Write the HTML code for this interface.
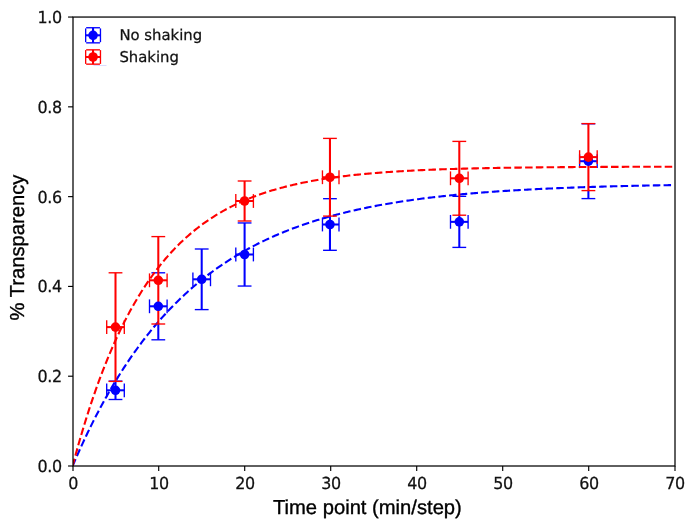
<!DOCTYPE html>
<html lang="en"><head><meta charset="utf-8"><title>% Transparency vs time point</title>
<style>
html,body{margin:0;padding:0;background:#fff;}
body{width:685px;height:530px;overflow:hidden;}
svg{display:block;will-change:transform;}
text{text-rendering:geometricPrecision;}
.tick{font-family:"DejaVu Sans","Liberation Sans",sans-serif;font-size:16.1px;letter-spacing:-0.4px;fill:#111;stroke:#111;stroke-width:0.25px;}
.leg{font-family:"DejaVu Sans","Liberation Sans",sans-serif;font-size:14.85px;fill:#111;stroke:#111;stroke-width:0.25px;}
.lab{font-family:"Liberation Sans",Arial,Helvetica,sans-serif;font-size:20.2px;fill:#000;stroke:#000;stroke-width:0.35px;}
</style></head><body>
<svg width="685" height="530" viewBox="0 0 685 530">
<rect x="0" y="0" width="685" height="530" fill="#ffffff"/>
<defs><clipPath id="ax"><rect x="73.0" y="17.05" width="602.0" height="448.95"/></clipPath></defs>
<g clip-path="url(#ax)" fill="none" stroke-linecap="butt">
<g stroke="#0000ff" stroke-width="2.05">
<line x1="106.7" y1="390.3" x2="124.3" y2="390.3"/>
<line x1="115.5" y1="380.8" x2="115.5" y2="399.5"/>
<line x1="149.5" y1="306.3" x2="167.1" y2="306.3"/>
<line x1="158.3" y1="323.4" x2="158.3" y2="339.8"/>
<line x1="192.9" y1="279.3" x2="210.5" y2="279.3"/>
<line x1="201.7" y1="249" x2="201.7" y2="309.6"/>
<line x1="235.8" y1="254.5" x2="253.4" y2="254.5"/>
<line x1="244.6" y1="222.95" x2="244.6" y2="286.05"/>
<line x1="322.45" y1="224.5" x2="339" y2="224.5"/>
<line x1="329.95" y1="215.5" x2="329.95" y2="250.3"/>
<line x1="450.5" y1="221.85" x2="468.1" y2="221.85"/>
<line x1="459.3" y1="214.6" x2="459.3" y2="247.4"/>
<line x1="579.6" y1="161.2" x2="597.2" y2="161.2"/>
<line x1="588.4" y1="190" x2="588.4" y2="198.6"/>
</g>
<g stroke="#0000ff" stroke-width="1.35">
<line x1="106.7" y1="383.4" x2="106.7" y2="397.2"/>
<line x1="124.3" y1="383.4" x2="124.3" y2="397.2"/>
<line x1="108.6" y1="381.1" x2="122.4" y2="381.1"/>
<line x1="108.6" y1="399.5" x2="122.4" y2="399.5"/>
<line x1="149.5" y1="299.4" x2="149.5" y2="313.2"/>
<line x1="167.1" y1="299.4" x2="167.1" y2="313.2"/>
<line x1="151.4" y1="272.8" x2="165.2" y2="272.8"/>
<line x1="151.4" y1="339.8" x2="165.2" y2="339.8"/>
<line x1="192.9" y1="272.4" x2="192.9" y2="286.2"/>
<line x1="210.5" y1="272.4" x2="210.5" y2="286.2"/>
<line x1="194.8" y1="249" x2="208.6" y2="249"/>
<line x1="194.8" y1="309.6" x2="208.6" y2="309.6"/>
<line x1="235.8" y1="247.6" x2="235.8" y2="261.4"/>
<line x1="253.4" y1="247.6" x2="253.4" y2="261.4"/>
<line x1="237.7" y1="222.95" x2="251.5" y2="222.95"/>
<line x1="237.7" y1="286.05" x2="251.5" y2="286.05"/>
<line x1="322.45" y1="217.6" x2="322.45" y2="231.4"/>
<line x1="339" y1="217.6" x2="339" y2="231.4"/>
<line x1="323.05" y1="198.7" x2="336.85" y2="198.7"/>
<line x1="323.05" y1="250.3" x2="336.85" y2="250.3"/>
<line x1="450.5" y1="214.95" x2="450.5" y2="228.75"/>
<line x1="468.1" y1="214.95" x2="468.1" y2="228.75"/>
<line x1="452.4" y1="196.3" x2="466.2" y2="196.3"/>
<line x1="452.4" y1="247.4" x2="466.2" y2="247.4"/>
<line x1="579.6" y1="154.3" x2="579.6" y2="168.1"/>
<line x1="597.2" y1="154.3" x2="597.2" y2="168.1"/>
<line x1="581.5" y1="123.8" x2="595.3" y2="123.8"/>
<line x1="581.5" y1="198.6" x2="595.3" y2="198.6"/>
</g>
<path d="M72.60,466.00 L74.10,462.49 L75.60,459.02 L77.11,455.60 L78.61,452.22 L80.11,448.88 L81.61,445.59 L83.11,442.33 L84.61,439.11 L86.12,435.94 L87.62,432.80 L89.12,429.70 L90.62,426.64 L92.12,423.62 L93.62,420.64 L95.13,417.69 L96.63,414.78 L98.13,411.91 L99.63,409.07 L101.13,406.27 L102.64,403.50 L104.14,400.77 L105.64,398.07 L107.14,395.40 L108.64,392.77 L110.14,390.16 L111.65,387.60 L113.15,385.06 L114.65,382.55 L116.15,380.08 L117.65,377.64 L119.16,375.22 L120.66,372.84 L122.16,370.49 L123.66,368.16 L125.16,365.87 L126.66,363.60 L128.17,361.36 L129.67,359.15 L131.17,356.97 L132.67,354.81 L134.17,352.68 L135.67,350.58 L137.18,348.50 L138.68,346.45 L140.18,344.42 L141.68,342.42 L143.18,340.44 L144.69,338.49 L146.19,336.57 L147.69,334.66 L149.19,332.78 L150.69,330.93 L152.19,329.09 L153.70,327.28 L155.20,325.49 L156.70,323.73 L158.20,321.98 L159.70,320.26 L161.20,318.56 L162.71,316.88 L164.21,315.22 L165.71,313.58 L167.21,311.96 L168.71,310.37 L170.22,308.79 L171.72,307.23 L173.22,305.69 L174.72,304.17 L176.22,302.67 L177.72,301.18 L179.23,299.72 L180.73,298.27 L182.23,296.85 L183.73,295.43 L185.23,294.04 L186.73,292.67 L188.24,291.31 L189.74,289.97 L191.24,288.64 L192.74,287.33 L194.24,286.04 L195.75,284.76 L197.25,283.50 L198.75,282.26 L200.25,281.03 L201.75,279.81 L203.25,278.61 L204.76,277.43 L206.26,276.26 L207.76,275.10 L209.26,273.96 L210.76,272.84 L212.27,271.72 L213.77,270.62 L215.27,269.54 L216.77,268.47 L218.27,267.41 L219.77,266.36 L221.28,265.33 L222.78,264.31 L224.28,263.31 L225.78,262.31 L227.28,261.33 L228.78,260.36 L230.29,259.40 L231.79,258.45 L233.29,257.52 L234.79,256.60 L236.29,255.69 L237.80,254.79 L239.30,253.90 L240.80,253.02 L242.30,252.15 L243.80,251.30 L245.30,250.45 L246.81,249.62 L248.31,248.79 L249.81,247.98 L251.31,247.17 L252.81,246.38 L254.31,245.60 L255.82,244.82 L257.32,244.06 L258.82,243.30 L260.32,242.55 L261.82,241.82 L263.33,241.09 L264.83,240.37 L266.33,239.66 L267.83,238.96 L269.33,238.27 L270.83,237.58 L272.34,236.91 L273.84,236.24 L275.34,235.58 L276.84,234.93 L278.34,234.29 L279.84,233.66 L281.35,233.03 L282.85,232.41 L284.35,231.80 L285.85,231.20 L287.35,230.60 L288.86,230.01 L290.36,229.43 L291.86,228.86 L293.36,228.29 L294.86,227.73 L296.36,227.18 L297.87,226.63 L299.37,226.09 L300.87,225.56 L302.37,225.03 L303.87,224.51 L305.38,224.00 L306.88,223.49 L308.38,222.99 L309.88,222.50 L311.38,222.01 L312.88,221.53 L314.39,221.05 L315.89,220.58 L317.39,220.12 L318.89,219.66 L320.39,219.21 L321.89,218.76 L323.40,218.32 L324.90,217.88 L326.40,217.45 L327.90,217.02 L329.40,216.60 L330.91,216.19 L332.41,215.78 L333.91,215.37 L335.41,214.97 L336.91,214.58 L338.41,214.19 L339.92,213.81 L341.42,213.42 L342.92,213.05 L344.42,212.68 L345.92,212.31 L347.42,211.95 L348.93,211.59 L350.43,211.24 L351.93,210.89 L353.43,210.55 L354.93,210.21 L356.44,209.87 L357.94,209.54 L359.44,209.21 L360.94,208.89 L362.44,208.57 L363.94,208.26 L365.45,207.94 L366.95,207.64 L368.45,207.33 L369.95,207.03 L371.45,206.74 L372.95,206.44 L374.46,206.16 L375.96,205.87 L377.46,205.59 L378.96,205.31 L380.46,205.04 L381.97,204.76 L383.47,204.50 L384.97,204.23 L386.47,203.97 L387.97,203.71 L389.47,203.46 L390.98,203.21 L392.48,202.96 L393.98,202.71 L395.48,202.47 L396.98,202.23 L398.49,201.99 L399.99,201.76 L401.49,201.53 L402.99,201.30 L404.49,201.07 L405.99,200.85 L407.50,200.63 L409.00,200.42 L410.50,200.20 L412.00,199.99 L413.50,199.78 L415.00,199.58 L416.51,199.37 L418.01,199.17 L419.51,198.97 L421.01,198.78 L422.51,198.58 L424.02,198.39 L425.52,198.20 L427.02,198.02 L428.52,197.83 L430.02,197.65 L431.52,197.47 L433.03,197.29 L434.53,197.12 L436.03,196.94 L437.53,196.77 L439.03,196.60 L440.53,196.44 L442.04,196.27 L443.54,196.11 L445.04,195.95 L446.54,195.79 L448.04,195.63 L449.55,195.48 L451.05,195.33 L452.55,195.17 L454.05,195.03 L455.55,194.88 L457.05,194.73 L458.56,194.59 L460.06,194.45 L461.56,194.31 L463.06,194.17 L464.56,194.03 L466.07,193.90 L467.57,193.76 L469.07,193.63 L470.57,193.50 L472.07,193.37 L473.57,193.25 L475.08,193.12 L476.58,193.00 L478.08,192.88 L479.58,192.76 L481.08,192.64 L482.58,192.52 L484.09,192.40 L485.59,192.29 L487.09,192.18 L488.59,192.06 L490.09,191.95 L491.60,191.84 L493.10,191.74 L494.60,191.63 L496.10,191.53 L497.60,191.42 L499.10,191.32 L500.61,191.22 L502.11,191.12 L503.61,191.02 L505.11,190.92 L506.61,190.83 L508.11,190.73 L509.62,190.64 L511.12,190.54 L512.62,190.45 L514.12,190.36 L515.62,190.27 L517.13,190.18 L518.63,190.10 L520.13,190.01 L521.63,189.93 L523.13,189.84 L524.63,189.76 L526.14,189.68 L527.64,189.60 L529.14,189.52 L530.64,189.44 L532.14,189.36 L533.64,189.28 L535.15,189.21 L536.65,189.13 L538.15,189.06 L539.65,188.98 L541.15,188.91 L542.66,188.84 L544.16,188.77 L545.66,188.70 L547.16,188.63 L548.66,188.56 L550.16,188.50 L551.67,188.43 L553.17,188.37 L554.67,188.30 L556.17,188.24 L557.67,188.17 L559.18,188.11 L560.68,188.05 L562.18,187.99 L563.68,187.93 L565.18,187.87 L566.68,187.81 L568.19,187.75 L569.69,187.70 L571.19,187.64 L572.69,187.59 L574.19,187.53 L575.69,187.48 L577.20,187.42 L578.70,187.37 L580.20,187.32 L581.70,187.27 L583.20,187.22 L584.71,187.17 L586.21,187.12 L587.71,187.07 L589.21,187.02 L590.71,186.97 L592.21,186.92 L593.72,186.88 L595.22,186.83 L596.72,186.78 L598.22,186.74 L599.72,186.70 L601.22,186.65 L602.73,186.61 L604.23,186.57 L605.73,186.52 L607.23,186.48 L608.73,186.44 L610.24,186.40 L611.74,186.36 L613.24,186.32 L614.74,186.28 L616.24,186.24 L617.74,186.20 L619.25,186.17 L620.75,186.13 L622.25,186.09 L623.75,186.06 L625.25,186.02 L626.75,185.98 L628.26,185.95 L629.76,185.91 L631.26,185.88 L632.76,185.85 L634.26,185.81 L635.77,185.78 L637.27,185.75 L638.77,185.72 L640.27,185.68 L641.77,185.65 L643.27,185.62 L644.78,185.59 L646.28,185.56 L647.78,185.53 L649.28,185.50 L650.78,185.47 L652.29,185.44 L653.79,185.42 L655.29,185.39 L656.79,185.36 L658.29,185.33 L659.79,185.31 L661.30,185.28 L662.80,185.25 L664.30,185.23 L665.80,185.20 L667.30,185.18 L668.80,185.15 L670.31,185.13 L671.81,185.10 L673.31,185.08" stroke="#0000ff" stroke-width="2.1" stroke-dasharray="7.5 3.24"/>
<g stroke="#ff0000" stroke-width="2.05">
<line x1="106.7" y1="327.1" x2="124.3" y2="327.1"/>
<line x1="115.5" y1="272.8" x2="115.5" y2="381.4"/>
<line x1="149.5" y1="280.3" x2="167.1" y2="280.3"/>
<line x1="158.3" y1="236.6" x2="158.3" y2="324"/>
<line x1="235.8" y1="201" x2="253.4" y2="201"/>
<line x1="244.6" y1="181" x2="244.6" y2="221"/>
<line x1="322.45" y1="177.25" x2="339" y2="177.25"/>
<line x1="329.95" y1="138.4" x2="329.95" y2="216.1"/>
<line x1="450.5" y1="178.3" x2="468.1" y2="178.3"/>
<line x1="459.3" y1="141.4" x2="459.3" y2="215.2"/>
<line x1="579.6" y1="157.1" x2="597.2" y2="157.1"/>
<line x1="588.4" y1="123.6" x2="588.4" y2="190.6"/>
</g>
<g stroke="#ff0000" stroke-width="1.35">
<line x1="106.7" y1="320.2" x2="106.7" y2="334"/>
<line x1="124.3" y1="320.2" x2="124.3" y2="334"/>
<line x1="108.6" y1="272.8" x2="122.4" y2="272.8"/>
<line x1="108.6" y1="381.4" x2="122.4" y2="381.4"/>
<line x1="149.5" y1="273.4" x2="149.5" y2="287.2"/>
<line x1="167.1" y1="273.4" x2="167.1" y2="287.2"/>
<line x1="151.4" y1="236.6" x2="165.2" y2="236.6"/>
<line x1="151.4" y1="324" x2="165.2" y2="324"/>
<line x1="235.8" y1="194.1" x2="235.8" y2="207.9"/>
<line x1="253.4" y1="194.1" x2="253.4" y2="207.9"/>
<line x1="237.7" y1="181" x2="251.5" y2="181"/>
<line x1="237.7" y1="221" x2="251.5" y2="221"/>
<line x1="322.45" y1="170.35" x2="322.45" y2="184.15"/>
<line x1="339" y1="170.35" x2="339" y2="184.15"/>
<line x1="323.05" y1="138.4" x2="336.85" y2="138.4"/>
<line x1="323.05" y1="216.1" x2="336.85" y2="216.1"/>
<line x1="450.5" y1="171.4" x2="450.5" y2="185.2"/>
<line x1="468.1" y1="171.4" x2="468.1" y2="185.2"/>
<line x1="452.4" y1="141.4" x2="466.2" y2="141.4"/>
<line x1="452.4" y1="215.2" x2="466.2" y2="215.2"/>
<line x1="579.6" y1="150.2" x2="579.6" y2="164"/>
<line x1="597.2" y1="150.2" x2="597.2" y2="164"/>
<line x1="581.5" y1="123.6" x2="595.3" y2="123.6"/>
<line x1="581.5" y1="190.6" x2="595.3" y2="190.6"/>
</g>
<path d="M72.60,466.00 L74.10,460.35 L75.60,454.81 L77.11,449.38 L78.61,444.05 L80.11,438.82 L81.61,433.68 L83.11,428.65 L84.61,423.70 L86.12,418.86 L87.62,414.10 L89.12,409.43 L90.62,404.85 L92.12,400.36 L93.62,395.95 L95.13,391.63 L96.63,387.38 L98.13,383.22 L99.63,379.13 L101.13,375.13 L102.64,371.19 L104.14,367.33 L105.64,363.55 L107.14,359.83 L108.64,356.19 L110.14,352.61 L111.65,349.11 L113.15,345.66 L114.65,342.29 L116.15,338.97 L117.65,335.72 L119.16,332.53 L120.66,329.40 L122.16,326.33 L123.66,323.32 L125.16,320.37 L126.66,317.47 L128.17,314.62 L129.67,311.83 L131.17,309.09 L132.67,306.40 L134.17,303.77 L135.67,301.18 L137.18,298.64 L138.68,296.15 L140.18,293.71 L141.68,291.31 L143.18,288.96 L144.69,286.65 L146.19,284.38 L147.69,282.16 L149.19,279.98 L150.69,277.84 L152.19,275.75 L153.70,273.69 L155.20,271.67 L156.70,269.68 L158.20,267.74 L159.70,265.83 L161.20,263.96 L162.71,262.12 L164.21,260.32 L165.71,258.55 L167.21,256.82 L168.71,255.12 L170.22,253.45 L171.72,251.81 L173.22,250.20 L174.72,248.62 L176.22,247.08 L177.72,245.56 L179.23,244.07 L180.73,242.61 L182.23,241.17 L183.73,239.77 L185.23,238.39 L186.73,237.03 L188.24,235.70 L189.74,234.40 L191.24,233.12 L192.74,231.86 L194.24,230.63 L195.75,229.43 L197.25,228.24 L198.75,227.08 L200.25,225.94 L201.75,224.82 L203.25,223.72 L204.76,222.64 L206.26,221.58 L207.76,220.54 L209.26,219.53 L210.76,218.53 L212.27,217.55 L213.77,216.59 L215.27,215.64 L216.77,214.72 L218.27,213.81 L219.77,212.92 L221.28,212.04 L222.78,211.19 L224.28,210.34 L225.78,209.52 L227.28,208.71 L228.78,207.91 L230.29,207.13 L231.79,206.37 L233.29,205.62 L234.79,204.88 L236.29,204.16 L237.80,203.45 L239.30,202.75 L240.80,202.07 L242.30,201.40 L243.80,200.74 L245.30,200.10 L246.81,199.47 L248.31,198.85 L249.81,198.24 L251.31,197.64 L252.81,197.05 L254.31,196.48 L255.82,195.91 L257.32,195.36 L258.82,194.82 L260.32,194.28 L261.82,193.76 L263.33,193.25 L264.83,192.75 L266.33,192.25 L267.83,191.77 L269.33,191.29 L270.83,190.83 L272.34,190.37 L273.84,189.92 L275.34,189.48 L276.84,189.05 L278.34,188.62 L279.84,188.21 L281.35,187.80 L282.85,187.40 L284.35,187.00 L285.85,186.62 L287.35,186.24 L288.86,185.87 L290.36,185.50 L291.86,185.15 L293.36,184.80 L294.86,184.45 L296.36,184.11 L297.87,183.78 L299.37,183.46 L300.87,183.14 L302.37,182.83 L303.87,182.52 L305.38,182.22 L306.88,181.92 L308.38,181.63 L309.88,181.35 L311.38,181.07 L312.88,180.80 L314.39,180.53 L315.89,180.26 L317.39,180.01 L318.89,179.75 L320.39,179.50 L321.89,179.26 L323.40,179.02 L324.90,178.78 L326.40,178.55 L327.90,178.33 L329.40,178.11 L330.91,177.89 L332.41,177.67 L333.91,177.46 L335.41,177.26 L336.91,177.06 L338.41,176.86 L339.92,176.66 L341.42,176.47 L342.92,176.29 L344.42,176.10 L345.92,175.92 L347.42,175.75 L348.93,175.57 L350.43,175.40 L351.93,175.24 L353.43,175.07 L354.93,174.91 L356.44,174.75 L357.94,174.60 L359.44,174.45 L360.94,174.30 L362.44,174.15 L363.94,174.01 L365.45,173.87 L366.95,173.73 L368.45,173.59 L369.95,173.46 L371.45,173.33 L372.95,173.20 L374.46,173.08 L375.96,172.96 L377.46,172.83 L378.96,172.72 L380.46,172.60 L381.97,172.49 L383.47,172.37 L384.97,172.26 L386.47,172.16 L387.97,172.05 L389.47,171.95 L390.98,171.85 L392.48,171.75 L393.98,171.65 L395.48,171.55 L396.98,171.46 L398.49,171.36 L399.99,171.27 L401.49,171.18 L402.99,171.10 L404.49,171.01 L405.99,170.93 L407.50,170.84 L409.00,170.76 L410.50,170.68 L412.00,170.61 L413.50,170.53 L415.00,170.45 L416.51,170.38 L418.01,170.31 L419.51,170.24 L421.01,170.17 L422.51,170.10 L424.02,170.03 L425.52,169.97 L427.02,169.90 L428.52,169.84 L430.02,169.78 L431.52,169.72 L433.03,169.66 L434.53,169.60 L436.03,169.54 L437.53,169.49 L439.03,169.43 L440.53,169.38 L442.04,169.32 L443.54,169.27 L445.04,169.22 L446.54,169.17 L448.04,169.12 L449.55,169.07 L451.05,169.02 L452.55,168.98 L454.05,168.93 L455.55,168.89 L457.05,168.84 L458.56,168.80 L460.06,168.76 L461.56,168.71 L463.06,168.67 L464.56,168.63 L466.07,168.59 L467.57,168.56 L469.07,168.52 L470.57,168.48 L472.07,168.44 L473.57,168.41 L475.08,168.37 L476.58,168.34 L478.08,168.31 L479.58,168.27 L481.08,168.24 L482.58,168.21 L484.09,168.18 L485.59,168.15 L487.09,168.12 L488.59,168.09 L490.09,168.06 L491.60,168.03 L493.10,168.00 L494.60,167.97 L496.10,167.95 L497.60,167.92 L499.10,167.90 L500.61,167.87 L502.11,167.84 L503.61,167.82 L505.11,167.80 L506.61,167.77 L508.11,167.75 L509.62,167.73 L511.12,167.71 L512.62,167.68 L514.12,167.66 L515.62,167.64 L517.13,167.62 L518.63,167.60 L520.13,167.58 L521.63,167.56 L523.13,167.54 L524.63,167.52 L526.14,167.51 L527.64,167.49 L529.14,167.47 L530.64,167.45 L532.14,167.44 L533.64,167.42 L535.15,167.40 L536.65,167.39 L538.15,167.37 L539.65,167.35 L541.15,167.34 L542.66,167.32 L544.16,167.31 L545.66,167.30 L547.16,167.28 L548.66,167.27 L550.16,167.25 L551.67,167.24 L553.17,167.23 L554.67,167.22 L556.17,167.20 L557.67,167.19 L559.18,167.18 L560.68,167.17 L562.18,167.15 L563.68,167.14 L565.18,167.13 L566.68,167.12 L568.19,167.11 L569.69,167.10 L571.19,167.09 L572.69,167.08 L574.19,167.07 L575.69,167.06 L577.20,167.05 L578.70,167.04 L580.20,167.03 L581.70,167.02 L583.20,167.01 L584.71,167.00 L586.21,167.00 L587.71,166.99 L589.21,166.98 L590.71,166.97 L592.21,166.96 L593.72,166.96 L595.22,166.95 L596.72,166.94 L598.22,166.93 L599.72,166.93 L601.22,166.92 L602.73,166.91 L604.23,166.91 L605.73,166.90 L607.23,166.89 L608.73,166.89 L610.24,166.88 L611.74,166.87 L613.24,166.87 L614.74,166.86 L616.24,166.86 L617.74,166.85 L619.25,166.84 L620.75,166.84 L622.25,166.83 L623.75,166.83 L625.25,166.82 L626.75,166.82 L628.26,166.81 L629.76,166.81 L631.26,166.80 L632.76,166.80 L634.26,166.79 L635.77,166.79 L637.27,166.78 L638.77,166.78 L640.27,166.78 L641.77,166.77 L643.27,166.77 L644.78,166.76 L646.28,166.76 L647.78,166.75 L649.28,166.75 L650.78,166.75 L652.29,166.74 L653.79,166.74 L655.29,166.74 L656.79,166.73 L658.29,166.73 L659.79,166.73 L661.30,166.72 L662.80,166.72 L664.30,166.72 L665.80,166.71 L667.30,166.71 L668.80,166.71 L670.31,166.70 L671.81,166.70 L673.31,166.70" stroke="#ff0000" stroke-width="2.1" stroke-dasharray="7.5 3.24"/>
<g fill="#0000ff" stroke="none">
<circle cx="115.5" cy="390.3" r="4.8"/>
<circle cx="158.3" cy="306.3" r="4.8"/>
<circle cx="201.7" cy="279.3" r="4.8"/>
<circle cx="244.6" cy="254.5" r="4.8"/>
<circle cx="329.95" cy="224.5" r="4.8"/>
<circle cx="459.3" cy="221.85" r="4.8"/>
<circle cx="588.4" cy="161.2" r="4.8"/>
</g>
<g fill="#ff0000" stroke="none">
<circle cx="115.5" cy="327.1" r="4.8"/>
<circle cx="158.3" cy="280.3" r="4.8"/>
<circle cx="244.6" cy="201" r="4.8"/>
<circle cx="329.95" cy="177.25" r="4.8"/>
<circle cx="459.3" cy="178.3" r="4.8"/>
<circle cx="588.4" cy="157.1" r="4.8"/>
</g>
</g>
<rect x="73.0" y="17.05" width="602.0" height="448.95" fill="none" stroke="#000000" stroke-width="1.25"/>
<g stroke="#000000" stroke-width="1.15">
<line x1="73" y1="466.0" x2="73" y2="470.95"/>
<line x1="158.7" y1="466.0" x2="158.7" y2="470.95"/>
<line x1="244.7" y1="466.0" x2="244.7" y2="470.95"/>
<line x1="330.7" y1="466.0" x2="330.7" y2="470.95"/>
<line x1="416.7" y1="466.0" x2="416.7" y2="470.95"/>
<line x1="502.7" y1="466.0" x2="502.7" y2="470.95"/>
<line x1="588.7" y1="466.0" x2="588.7" y2="470.95"/>
<line x1="675" y1="466.0" x2="675" y2="470.95"/>
<line x1="68.05" y1="466" x2="73.0" y2="466"/>
<line x1="68.05" y1="376.21" x2="73.0" y2="376.21"/>
<line x1="68.05" y1="286.42" x2="73.0" y2="286.42"/>
<line x1="68.05" y1="196.63" x2="73.0" y2="196.63"/>
<line x1="68.05" y1="106.84" x2="73.0" y2="106.84"/>
<line x1="68.05" y1="17.05" x2="73.0" y2="17.05"/>
</g>
<g class="tick" text-anchor="middle">
<text transform="translate(73.05,488.9) scale(0.99,1.025)">0</text>
<text transform="translate(159.05,488.9) scale(0.99,1.025)">10</text>
<text transform="translate(245.05,488.9) scale(0.99,1.025)">20</text>
<text transform="translate(331.05,488.9) scale(0.99,1.025)">30</text>
<text transform="translate(417.05,488.9) scale(0.99,1.025)">40</text>
<text transform="translate(503.05,488.9) scale(0.99,1.025)">50</text>
<text transform="translate(589.05,488.9) scale(0.99,1.025)">60</text>
<text transform="translate(675.05,488.9) scale(0.99,1.025)">70</text>
</g>
<g class="tick" text-anchor="end">
<text transform="translate(61.7,472) scale(0.99,1.025)">0.0</text>
<text transform="translate(61.7,382.21) scale(0.99,1.025)">0.2</text>
<text transform="translate(61.7,292.42) scale(0.99,1.025)">0.4</text>
<text transform="translate(61.7,202.63) scale(0.99,1.025)">0.6</text>
<text transform="translate(61.7,112.84) scale(0.99,1.025)">0.8</text>
<text transform="translate(61.7,23.05) scale(0.99,1.025)">1.0</text>
</g>
<text class="lab" x="367.4" y="514.3" text-anchor="middle">Time point (min/step)</text>
<text class="lab" transform="translate(24.4,247.6) rotate(-90)" text-anchor="middle">% Transparency</text>
<g stroke="#0000ff" fill="none">
<line x1="85.65" y1="35.3" x2="100.45" y2="35.3" stroke-width="2.05"/>
<line x1="93.05" y1="27.75" x2="93.05" y2="42.85" stroke-width="2.05"/>
<line x1="85.65" y1="28.4" x2="85.65" y2="42.2" stroke-width="1.35"/>
<line x1="100.45" y1="28.4" x2="100.45" y2="42.2" stroke-width="1.35"/>
<line x1="86.15" y1="27.75" x2="99.95" y2="27.75" stroke-width="1.35"/>
<line x1="86.15" y1="42.85" x2="99.95" y2="42.85" stroke-width="1.35"/>
<circle cx="93.05" cy="35.3" r="4.8" fill="#0000ff" stroke="none"/>
</g>
<g stroke="#ff0000" fill="none">
<line x1="85.65" y1="57" x2="100.45" y2="57" stroke-width="2.05"/>
<line x1="93.05" y1="49.85" x2="93.05" y2="64.15" stroke-width="2.05"/>
<line x1="85.65" y1="50.1" x2="85.65" y2="63.9" stroke-width="1.35"/>
<line x1="100.45" y1="50.1" x2="100.45" y2="63.9" stroke-width="1.35"/>
<line x1="86.15" y1="49.85" x2="99.95" y2="49.85" stroke-width="1.35"/>
<line x1="86.15" y1="64.15" x2="99.95" y2="64.15" stroke-width="1.35"/>
<circle cx="93.05" cy="57" r="4.8" fill="#ff0000" stroke="none"/>
</g>
<line x1="93.5" y1="65.5" x2="106.5" y2="65.5" stroke="#0000ff" stroke-opacity="0.14" stroke-width="1"/>
<text class="leg" x="119.4" y="40.2">No shaking</text>
<text class="leg" x="119.4" y="61.9">Shaking</text>
</svg>
</body></html>
